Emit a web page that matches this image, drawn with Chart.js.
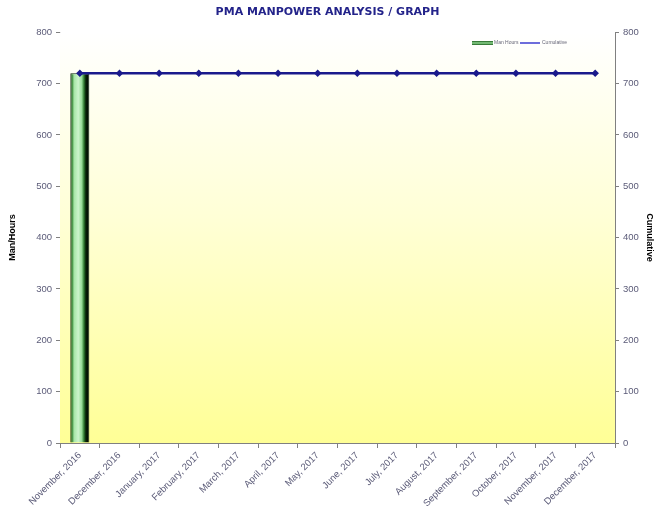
<!DOCTYPE html>
<html>
<head>
<meta charset="utf-8">
<script src="https://cdn.jsdelivr.net/npm/chart.js@4"></script>
<style>
  html, body { margin: 0; padding: 0; background: #ffffff; }
  #wrap { width: 655px; height: 510px; position: relative; }
</style>
</head>
<body>
<div id="wrap"><canvas id="manpowerChart"></canvas></div>
<script>
// chart data
const months = ['November, 2016', 'December, 2016', 'January, 2017', 'February, 2017', 'March, 2017',
    'April, 2017', 'May, 2017', 'June, 2017', 'July, 2017', 'August, 2017', 'September, 2017',
    'October, 2017', 'November, 2017', 'December, 2017'];
const manHours = [720, 0, 0, 0, 0, 0, 0, 0, 0, 0, 0, 0, 0, 0];
const cumulative = [720, 720, 720, 720, 720, 720, 720, 720, 720, 720, 720, 720, 720, 720];
const yTicksMax = 800;
const yTickStep = 100;

const BAR_PCT = 0.48;
const tickColor = '#5b5b78';
const axisGrey = '#808080';

// yellow fade behind the plot
const plotBackground = {
    id: 'plotBackground',
    beforeDatasetsDraw(chart) {
        const { ctx, chartArea: a } = chart;
        const g = ctx.createLinearGradient(0, a.top, 0, a.bottom);
        g.addColorStop(0, '#ffffff');
        g.addColorStop(0.45, '#ffffd6');
        g.addColorStop(1, '#ffff96');
        ctx.save();
        ctx.fillStyle = g;
        ctx.fillRect(a.left, a.top, a.right - a.left, a.bottom - a.top);
        ctx.restore();
    }
};

// small legend in the top right of the plot
const miniLegend = {
    id: 'miniLegend',
    afterDraw(chart) {
        const { ctx } = chart;
        const y = 43;
        ctx.save();
        const g = ctx.createLinearGradient(0, y - 2, 0, y + 2);
        g.addColorStop(0, '#1c5c1c');
        g.addColorStop(0.5, '#8fd88f');
        g.addColorStop(1, '#1c5c1c');
        ctx.fillStyle = g;
        ctx.fillRect(472, y - 2, 21, 4);
        ctx.strokeStyle = '#3c3cd0';
        ctx.lineWidth = 1.5;
        ctx.beginPath();
        ctx.moveTo(520, y);
        ctx.lineTo(540, y);
        ctx.stroke();
        ctx.fillStyle = '#666677';
        ctx.font = '5px "Liberation Sans"';
        ctx.textBaseline = 'middle';
        ctx.fillText('Man Hours', 494, y);
        ctx.fillText('Cumulative', 542, y);
        ctx.restore();
    }
};

const cylinderFill = (c) => {
    const chart = c.chart;
    if (!chart.chartArea || !chart.scales.x) return '#8fd88f';
    const xs = chart.scales.x;
    const cx = xs.getPixelForValue(c.dataIndex);
    const w = xs.width / months.length * BAR_PCT;
    const g = chart.ctx.createLinearGradient(cx - w / 2, 0, cx + w / 2, 0);
    g.addColorStop(0, '#0d300d');
    g.addColorStop(0.1, '#3f8f3f');
    g.addColorStop(0.2, '#a6e6a6');
    g.addColorStop(0.42, '#ccf4cc');
    g.addColorStop(0.6, '#98dc98');
    g.addColorStop(0.72, '#2f7a2f');
    g.addColorStop(0.82, '#062006');
    g.addColorStop(1, '#000000');
    return g;
};

new Chart(document.getElementById('manpowerChart'), {
    data: {
        labels: months,
        datasets: [
            {
                type: 'bar',
                label: 'Man Hours',
                data: manHours,
                yAxisID: 'y',
                backgroundColor: cylinderFill,
                borderColor: '#0a240a',
                borderWidth: 1,
                categoryPercentage: 1,
                barPercentage: BAR_PCT,
                order: 1
            },
            {
                type: 'line',
                label: 'Cumulative',
                data: cumulative,
                yAxisID: 'y1',
                borderColor: '#1a1a8c',
                backgroundColor: '#1a1a8c',
                borderWidth: 2.5,
                pointStyle: 'rectRot',
                pointRadius: 2,
                tension: 0,
                order: 0
            }
        ]
    },
    options: {
        responsive: true,
        maintainAspectRatio: false,
        animation: false,
        layout: { padding: 0 },
        plugins: {
            legend: { display: false },
            tooltip: { enabled: false },
            title: {
                display: true,
                text: 'PMA MANPOWER ANALYSIS / GRAPH',
                color: '#23238a',
                font: { family: 'DejaVu Sans', size: 11, weight: 'bold' },
                padding: { top: 6, bottom: 13 }
            }
        },
        scales: {
            x: {
                offset: true,
                grid: {
                    display: true, drawOnChartArea: false, drawTicks: true,
                    tickLength: 5, color: axisGrey, offset: true
                },
                border: { color: axisGrey },
                ticks: {
                    color: tickColor,
                    font: { family: 'Liberation Sans', size: 9.5 },
                    minRotation: 45, maxRotation: 45, autoSkip: false, padding: 2
                },
                afterFit: (s) => { s.height = 67; }
            },
            y: {
                position: 'left',
                min: 0, max: yTicksMax,
                ticks: {
                    stepSize: yTickStep, color: tickColor, padding: 4,
                    font: { family: 'Liberation Sans', size: 9.5 }
                },
                grid: {
                    display: true, drawOnChartArea: false, drawTicks: true,
                    tickLength: 4, color: axisGrey
                },
                border: { color: axisGrey },
                title: {
                    display: true, text: 'Man/Hours', color: '#000000',
                    font: { family: 'Liberation Sans', size: 9, weight: 'bold' },
                    padding: { top: 7, bottom: 0 }
                },
                afterFit: (s) => { s.width = 60; }
            },
            y1: {
                position: 'right',
                min: 0, max: yTicksMax,
                ticks: {
                    stepSize: yTickStep, color: tickColor, padding: 4,
                    font: { family: 'Liberation Sans', size: 9.5 }
                },
                grid: {
                    display: true, drawOnChartArea: false, drawTicks: true,
                    tickLength: 4, color: axisGrey
                },
                border: { color: axisGrey },
                title: {
                    display: true, text: 'Cumulative', color: '#000000',
                    font: { family: 'Liberation Sans', size: 9, weight: 'bold' },
                    padding: { top: 0, bottom: 0 }
                },
                afterFit: (s) => { s.width = 40; }
            }
        }
    },
    plugins: [plotBackground, miniLegend]
});
</script>
</body>
</html>
